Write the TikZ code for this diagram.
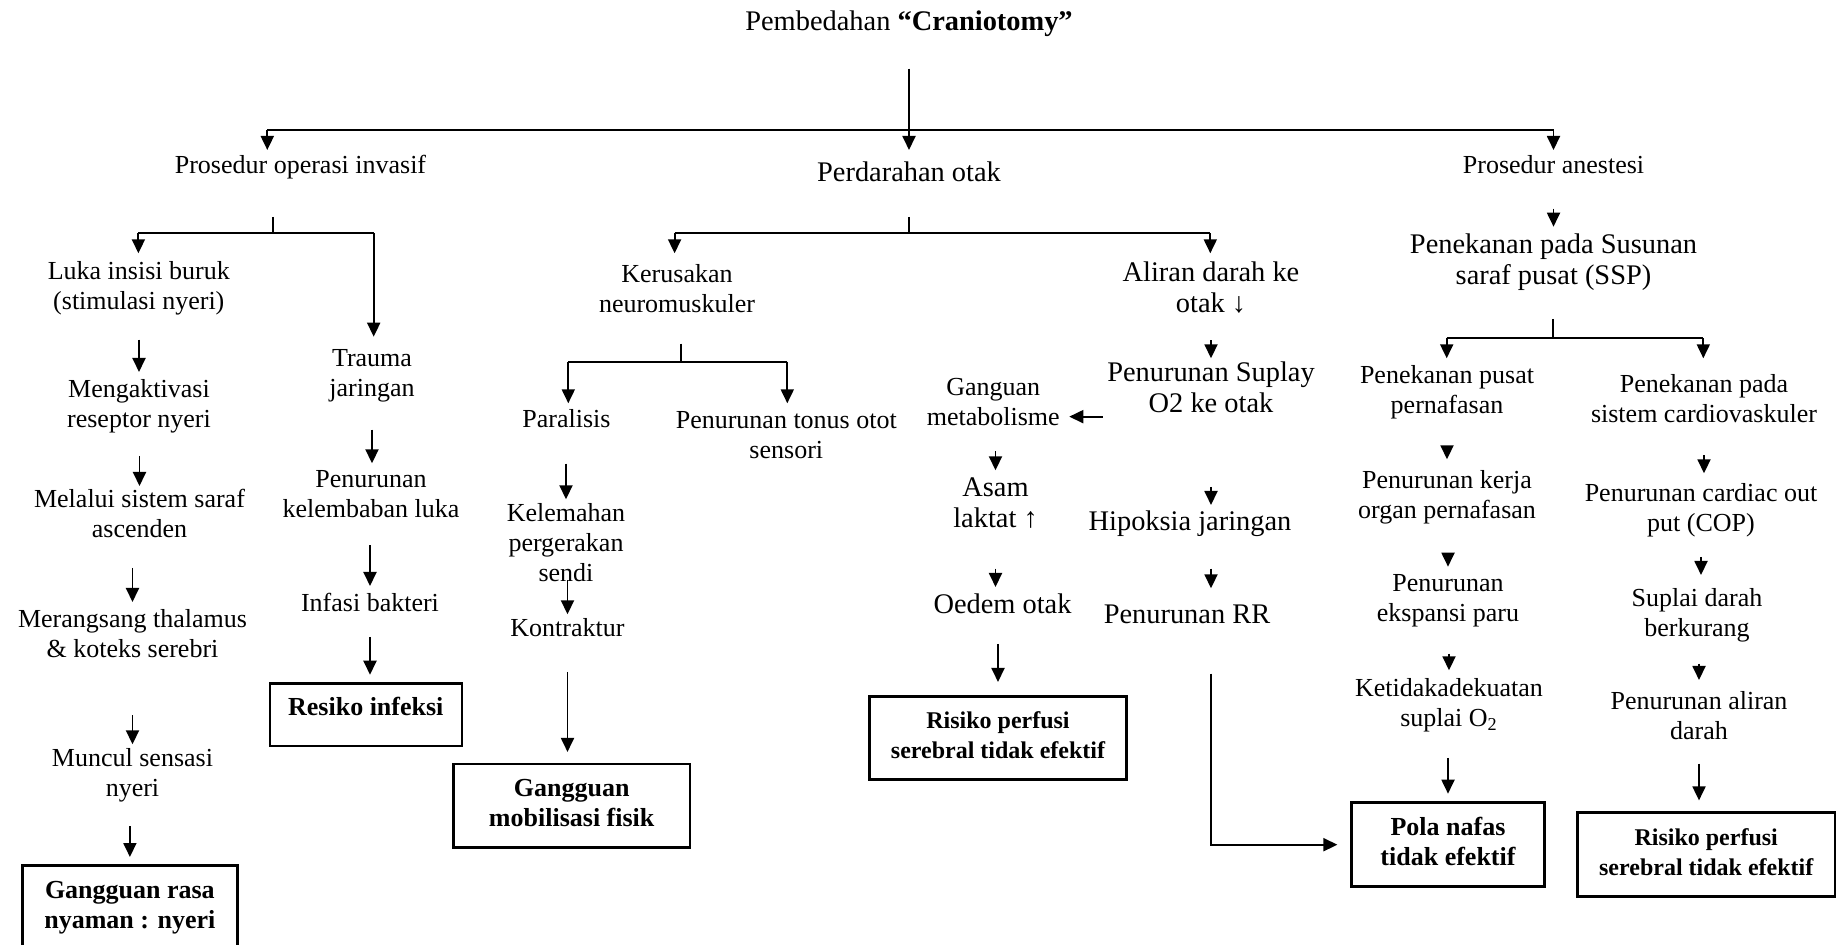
\documentclass[tikz,border=0pt]{standalone}
\usepackage{fontspec}
\setmainfont{Liberation Serif}
\usetikzlibrary{arrows.meta}
\tikzstyle{txt}=[inner sep=0pt, anchor=north, align=center, font=\fontsize{13}{15}\selectfont]
\tikzstyle{txt_big}=[txt, font=\fontsize{14.2}{15.5}\selectfont]
\tikzstyle{dx}=[draw, line width=1.3pt, inner sep=0pt, align=center, font=\bfseries\fontsize{13}{15}\selectfont]
\tikzstyle{dx_small}=[dx, font=\bfseries\fontsize{12}{15}\selectfont]
\tikzstyle{arr}=[-{Triangle[length=7pt,width=6.5pt]}, shorten <=10pt, shorten >=2pt]
\tikzstyle{arr_bar}=[arr, shorten <=0pt]
\begin{document}
\begin{tikzpicture}[x=0.5pt, y=-0.5pt, line width=0.95pt]
              \useasboundingbox (0,0) rectangle (1847,945);
              \clip (0,0) rectangle (1847,945);
              % top
              \node[txt_big] (ttl) at (909,7.7) {\strut Pembedahan \textbf{“Craniotomy”}\strut};
              \node[txt] (inv) at (300.5,151.7) {\strut Prosedur operasi invasif\strut};
              \node[txt_big] (prd) at (909,159.3) {\strut Perdarahan otak\strut};
              \node[txt] (ans) at (1553.5,151.7) {\strut Prosedur anestesi\strut};
              \coordinate (topL) at (267.3,130);
              \coordinate (topR) at (1553.5,130);
              \draw[](topL) -- (topR);
              \draw[arr, shorten <=14pt, shorten >=4.65pt](ttl) -- (prd);
              \draw[arr_bar, shorten >=0.85pt](topL) -- (topL |- inv.north);
              \draw[arr_bar, shorten >=0.85pt](topR) -- (ans);
              % prosedur operasi invasif
              \node[txt] (luka) at (138.8,257.7) {\strut Luka insisi buruk\\(stimulasi nyeri)\strut};
              \node[txt] (meng) at (139,376) {\strut Mengaktivasi\\reseptor nyeri\strut};
              \node[txt] (mel) at (139.5,486) {\strut Melalui sistem saraf\\ascenden\strut};
              \node[txt] (mer) at (132.5,606) {\strut Merangsang thalamus\\\& koteks serebri\strut};
              \node[txt] (mun) at (132.5,744.3) {\strut Muncul sensasi\\nyeri\strut};
              \node[dx, minimum width=107.35pt, minimum height=42pt] (bx1) at (129.9,907.7) {\strut Gangguan rasa\\nyaman : nyeri\strut};
              \node[txt] (trm) at (372,344.3) {\strut Trauma\\jaringan\strut};
              \node[txt] (kel) at (371,466) {\strut Penurunan\\kelembaban luka\strut};
              \node[txt] (inf) at (370,589.3) {\strut Infasi bakteri\strut};
              \node[dx, minimum width=96pt, minimum height=31.35pt, text depth=9.9pt] (bx2) at (365.8,714.7) {\strut Resiko infeksi};
              \coordinate (invL) at (138.4,233.3);
              \coordinate (invM) at (272.8,233.3);
              \coordinate (invR) at (373.7,233.3);
              \draw[shorten <=16.65pt](inv.south -| invM) -- (invM);
              \draw[](invL) -- (invR);
              \draw[arr_bar, shorten >=2.2pt](invL) -- (invL |- luka.north);
              \draw[arr_bar, shorten >=3.8pt](invR) -- (invR |- trm.north);
              \draw[arr](meng |- luka.south) -- (meng);
              \draw[arr, shorten <=9pt, shorten >=0pt](mel |- meng.south) -- (mel);
              \draw[arr](mer |- mel.south) -- (mer);
              \draw[arr, shorten <=23.65pt, shorten >=0pt](mun |- mer.south) -- (mun);
              \draw[arr, shorten >=3.7pt](bx1 |- mun.south) -- (bx1);
              \draw[arr, shorten <=11.7pt, shorten >=1.35pt](trm) -- (trm |- kel.north);
              \draw[arr, shorten <=8.65pt, shorten >=1.65pt](inf |- kel.south) -- (inf);
              \draw[arr, shorten <=7.85pt, shorten >=3.65pt](inf) -- (inf |- bx2.north);
              % perdarahan otak
              \node[txt] (ker) at (677,261) {\strut Kerusakan\\neuromuskuler\strut};
              \node[txt] (par) at (566.5,406) {\strut Paralisis\strut};
              \node[txt] (ton) at (786.3,406.7) {\strut Penurunan tonus otot\\sensori\strut};
              \node[txt] (klm) at (566,499.3) {\strut Kelemahan\\pergerakan\\sendi\strut};
              \node[txt] (kon) at (567.5,614.3) {\strut Kontraktur\strut};
              \node[dx, minimum width=118.35pt, minimum height=41.85pt] (bx3) at (571.7,805.9) {\strut Gangguan\\mobilisasi fisik\strut};
              \node[txt] (gan) at (993.3,373.3) {\strut Ganguan\\metabolisme\strut};
              \node[txt_big] (asm) at (995.5,474.3) {\strut Asam\\laktat ↑\strut};
              \node[txt_big] (oed) at (1002.5,591) {\strut Oedem otak\strut};
              \node[dx_small, minimum width=128.7pt, minimum height=41.3pt] (bx4) at (998,738) {\strut Risiko perfusi\\serebral tidak efektif\strut};
              \node[txt_big] (ali) at (1211,259.3) {\strut Aliran darah ke\\otak ↓\strut};
              \node[txt_big] (sup) at (1211,359.3) {\strut Penurunan Suplay\\O2 ke otak\strut};
              \node[txt_big] (hip) at (1190,507.7) {\strut Hipoksia jaringan\strut};
              \node[txt_big] (rr) at (1187,601) {\strut Penurunan RR\strut};
              \coordinate (prdL) at (674.6,233.3);
              \coordinate (prdM) at (908.9,233.3);
              \coordinate (prdR) at (1210.3,233.3);
              \draw[shorten <=12.35pt](prd.south -| prdM) -- (prdM);
              \draw[](prdL) -- (prdR);
              \draw[arr_bar, shorten >=3.85pt](prdL) -- (prdL |- ker.north);
              \draw[arr_bar, shorten >=3pt](prdR) -- (prdR |- ali.north);
              \coordinate (kerL) at (568.3,361.7);
              \coordinate (kerM) at (680.7,361.7);
              \coordinate (kerR) at (787.3,361.7);
              \draw[shorten <=10.35pt](ker.south -| kerM) -- (kerM);
              \draw[](kerL) -- (kerR);
              \draw[arr_bar, shorten >=1.35pt](kerL) -- (kerL |- par.north);
              \draw[arr_bar, shorten >=1.7pt](kerR) -- (kerR |- ton.north);
              \draw[arr, shorten <=12.85pt, shorten >=0pt](klm |- par.south) -- (klm);
              \draw[arr, shorten <=-5.5pt, shorten >=0pt](kon |- klm.south) -- (kon);
              \draw[arr, shorten <=12.85pt, shorten >=5.4pt](kon) -- (kon |- bx3.north);
              \draw[arr, shorten <=8pt](asm |- gan.south) -- (asm);
              \draw[arr, shorten <=15.2pt](asm) -- (asm |- oed.north);
              \draw[arr, shorten >=6.7pt](bx4 |- oed.south) -- (bx4);
              \draw[arr, shorten <=8.5pt, shorten >=0.5pt](ali) -- (sup);
              \coordinate (supW) at ([yshift=-12.7pt]sup.west);
              \draw[arr, shorten <=1.7pt, shorten >=4.3pt](supW) -- (supW -| gan.east);
              \draw[arr, shorten <=31.85pt, shorten >=1.35pt](sup) -- (sup |- hip.north);
              \draw[arr, shorten <=14pt, shorten >=6.35pt](sup |- hip.south) -- (sup |- rr.north);
              % prosedur anestesi
              \node[txt_big] (ssp) at (1553.5,231.3) {\strut Penekanan pada Susunan\\saraf pusat (SSP)\strut};
              \node[txt] (pus) at (1447,362) {\strut Penekanan pusat\\pernafasan\strut};
              \node[txt] (kja) at (1447,466.7) {\strut Penurunan kerja\\organ pernafasan\strut};
              \node[txt] (eks) at (1448,569.3) {\strut Penurunan\\ekspansi paru\strut};
              \node[txt] (ket) at (1449,674.3) {\strut Ketidakadekuatan\\suplai O\textsubscript{2}\strut};
              \node[dx, minimum width=96.3pt, minimum height=42pt] (bx5) at (1448,844.7) {\strut Pola nafas\\tidak efektif\strut};
              \node[txt] (car) at (1704,371) {\strut Penekanan pada\\sistem cardiovaskuler\strut};
              \node[txt] (cop) at (1701,479.3) {\strut Penurunan cardiac out\\put (COP)\strut};
              \node[txt] (spl) at (1697,584.3) {\strut Suplai darah\\berkurang\strut};
              \node[txt] (alr) at (1699,687.7) {\strut Penurunan aliran\\darah\strut};
              \node[dx_small, minimum width=128.85pt, minimum height=42pt] (bx6) at (1706.2,854.7) {\strut Risiko perfusi\\serebral tidak efektif\strut};
              \draw[arr, shorten <=12.5pt, shorten >=2.3pt](ans) -- (ssp);
              \coordinate (sspL) at (1446.7,338.3);
              \coordinate (sspM) at (1553.3,338.3);
              \coordinate (sspR) at (1703.3,338.3);
              \draw[shorten <=11.85pt](ssp.south -| sspM) -- (sspM);
              \draw[](sspL) -- (sspR);
              \draw[arr_bar, shorten >=1.85pt](sspL) -- (sspL |- pus.north);
              \draw[arr_bar, shorten >=6.35pt](sspR) -- (sspR |- car.north);
              \draw[arr, shorten <=11.5pt, shorten >=3.7pt](kja |- pus.south) -- (kja);
              \draw[arr, shorten <=12.5pt, shorten >=1.3pt](eks |- kja.south) -- (eks);
              \draw[arr, shorten <=11.2pt](ket |- eks.south) -- (ket);
              \draw[arr, shorten <=10.85pt, shorten >=3.85pt](bx5 |- ket.south) -- (bx5);
              \draw[arr, shorten <=19.85pt, shorten >=6.5pt](sup |- rr.south) |- (bx5);
              \draw[arr, shorten <=11.15pt, shorten >=3pt](car) -- (car |- cop.north);
              \draw[arr, shorten <=7.85pt, shorten >=4.65pt](cop) -- (cop |- spl.north);
              \draw[arr, shorten <=8.7pt, shorten >=3.85pt](alr |- spl.south) -- (alr);
              \draw[arr, shorten <=7pt, shorten >=5.5pt](alr) -- (alr |- bx6.north);
            \end{tikzpicture}
\end{document}
